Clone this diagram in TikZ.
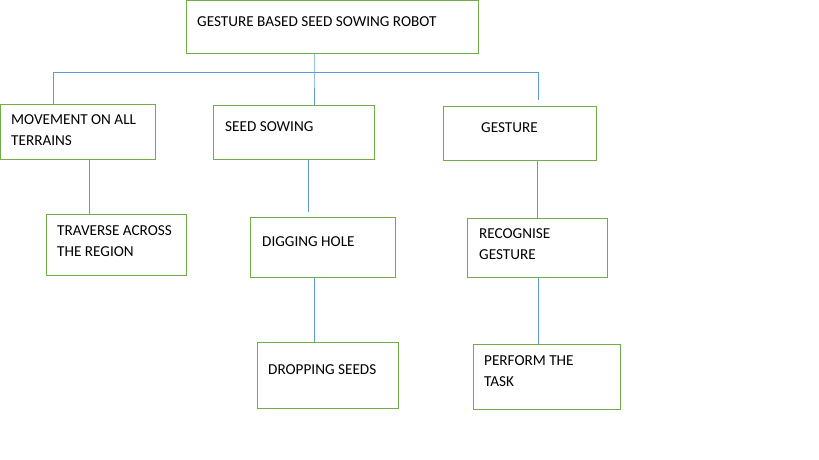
\documentclass[tikz,border=0pt]{standalone}
\usepackage{fontspec}
\setmainfont{Carlito}
\definecolor{boxgreen}{HTML}{70AD47}
\definecolor{linkblue}{HTML}{5B9BD5}
\begin{document}
\begin{tikzpicture}[x=1pt,y=-1pt,
  box/.style={draw=boxgreen,line width=1.2pt,inner sep=0pt,anchor=north west},
  lbl/.style={anchor=north west,align=left,inner sep=0pt,font=\fontsize{15.2}{21}\selectfont},
  link/.style={draw=linkblue,line width=0.9pt}]
  \useasboundingbox (0,0) rectangle (819,460);
  % boxes
  \node[box,minimum width=292,minimum height=53] (robot) at (186,0) {};
  \node[box,minimum width=155,minimum height=55] (move) at (0,104) {};
  \node[box,minimum width=161,minimum height=54] (sow) at (213,105) {};
  \node[box,minimum width=153,minimum height=54] (gest) at (443,106) {};
  \node[box,minimum width=140,minimum height=61] (trav) at (46,214) {};
  \node[box,minimum width=145,minimum height=60] (dig) at (250,217) {};
  \node[box,minimum width=140,minimum height=59] (recog) at (467,218) {};
  \node[box,minimum width=141,minimum height=66] (drop) at (257,342) {};
  \node[box,minimum width=147,minimum height=65] (task) at (473,344) {};
  % texts
  \node[lbl] (robott) at (197,16) {GESTURE BASED SEED SOWING ROBOT};
  \node[lbl] (movet) at (11,114) {MOVEMENT ON ALL\\TERRAINS};
  \node[lbl] (sowt) at (225,121) {SEED SOWING};
  \node[lbl] (gestt) at (481,122) {GESTURE};
  \node[lbl] (travt) at (57,225) {TRAVERSE ACROSS\\THE REGION};
  \node[lbl] (digt) at (262,236) {DIGGING HOLE};
  \node[lbl] (recogt) at (479,228) {RECOGNISE\\GESTURE};
  \node[lbl] (dropt) at (268,364) {DROPPING SEEDS};
  \node[lbl] (taskt) at (484,355) {PERFORM THE\\TASK};
  % connectors
  \coordinate (hub) at (314,72);
  \coordinate (left) at (53,72);
  \coordinate (right) at (538,72);
  \draw[link] (hub |- robot.south) -- (hub) -- (hub |- sow.north);
  \draw[link] (left |- move.north) -- (left) -- (right) -- ([yshift=6]right |- gest.north);
  \coordinate (c1) at (89,0);
  \coordinate (c2) at (308,0);
  \coordinate (c3) at (537,0);
  \coordinate (c4) at (314,0);
  \coordinate (c5) at (538,0);
  \draw[link] (c1 |- move.south) -- (c1 |- trav.north);
  \draw[link] (c2 |- sow.south) -- ([yshift=5]c2 |- dig.north);
  \draw[link] (c3 |- gest.south) -- (c3 |- recog.north);
  \draw[link] (c4 |- dig.south) -- (c4 |- drop.north);
  \draw[link] (c5 |- recog.south) -- (c5 |- task.north);
\end{tikzpicture}
\end{document}
